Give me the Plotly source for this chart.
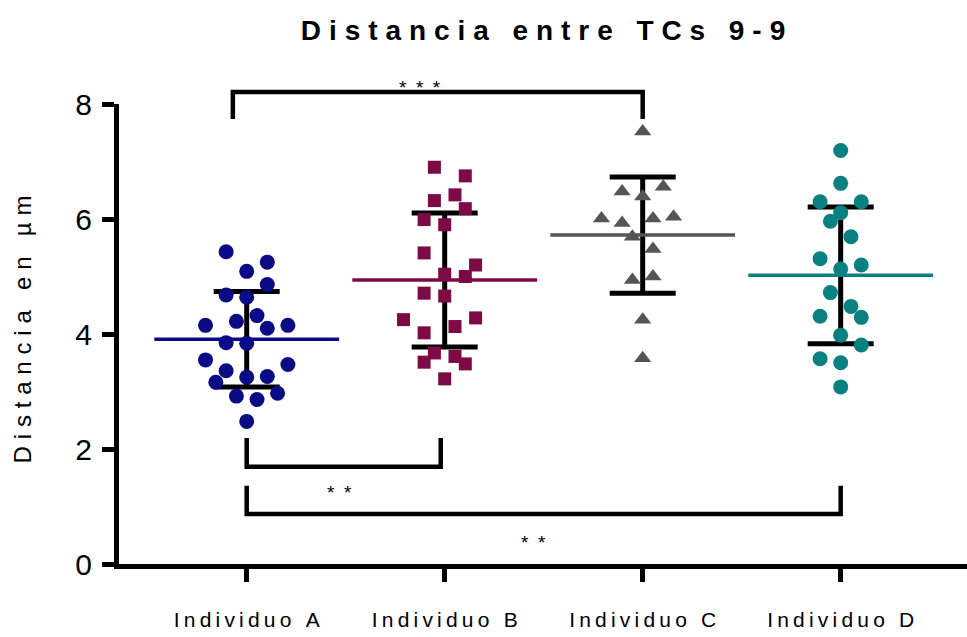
import plotly.graph_objects as go

# ---------------- data ----------------
categories = ["Individuo A", "Individuo B", "Individuo C", "Individuo D"]

a_vals = [5.43, 5.25, 5.09, 4.86, 4.68, 4.64, 4.32, 4.22, 4.15, 4.10, 4.15, 3.85,
          3.84, 3.55, 3.47, 3.36, 3.25, 3.26, 3.16, 2.97, 2.92, 2.86, 2.48]
a_cols = [-2, 2, 0, 2, -2, 0, 1, -1, -4, 2, 4, -2, 0, -4, 4, -2, 0, 2, -3, 3, -1, 1, 0]

b_vals = [6.90, 6.75, 6.32, 6.42, 6.18, 5.99, 5.90, 5.41, 5.20, 5.04, 5.00, 4.71,
          4.66, 4.25, 4.28, 4.13, 4.02, 3.67, 3.61, 3.51, 3.48, 3.22]
b_cols = [-1, 2, -1, 1, 2, -2, 0, -2, 3, 0, 2, -2, 0, -4, 3, 1, -2, -1, 1, -2, 2, 0]

c_vals = [7.52, 6.48, 6.56, 6.39, 6.01, 5.93, 6.01, 6.04, 5.69, 5.48, 4.94, 5.00, 4.25, 3.58]
c_cols = [0, -2, 2, 0, -4, -2, 1, 3, -1, 1, -1, 1, 0, 0]

d_vals = [7.19, 6.62, 6.30, 6.30, 6.11, 5.96, 5.69, 5.31, 5.20, 5.13, 4.72, 4.48,
          4.31, 4.29, 3.98, 3.81, 3.57, 3.50, 3.08]
d_cols = [0, 0, -2, 2, 0, -1, 1, -2, 2, 0, -1, 1, -2, 2, 0, 2, -2, 0, 0]

means = [3.91, 4.94, 5.72, 5.02]
sds = [0.83, 1.165, 1.01, 1.19]

y_ticks = [0, 2, 4, 6, 8]

# significance brackets: (x_left, x_right, y_bar, y_leg_end, label, label_x, label_y)
brackets = [
    (-0.07, 2.0, 8.21, 7.74, "***", 0.875, 8.28),
    (0.0, 0.98, 1.69, 2.19, "**", 0.47, 1.25),
    (0.0, 3.0, 0.87, 1.36, "**", 1.446, 0.38),
]

colors = ["#0b0b85", "#7d0a45", "#555555", "#0a8080"]
symbols = ["circle", "square", "triangle-up", "circle"]
sizes = [15, 13, 15, 15]

YMAX = 8.0
JIT = 0.052
SEP = "\u2009\u200a"

def spaced(s, sep=SEP):
    return sep.join(s)

FONT = "Liberation Sans, Arial, sans-serif"

fig = go.Figure()

# error bars (SD)
fig.add_trace(go.Scatter(
    x=list(range(len(categories))), y=means, mode="markers",
    marker=dict(size=1, color="rgba(0,0,0,0)"),
    error_y=dict(type="data", array=sds, visible=True, color="black",
                 thickness=5, width=33),
    hoverinfo="skip", showlegend=False))

# mean lines
fig.add_trace(go.Scatter(
    x=list(range(len(categories))), y=means, mode="markers",
    marker=dict(symbol="line-ew", size=132,
                line=dict(width=3.5, color=colors)),
    hoverinfo="skip", showlegend=False))

groups = [(a_vals, a_cols), (b_vals, b_cols), (c_vals, c_cols), (d_vals, d_cols)]
for i, (vals, cols) in enumerate(groups):
    fig.add_trace(go.Scatter(
        x=[i + c * JIT for c in cols], y=vals, mode="markers",
        name=categories[i],
        marker=dict(symbol=symbols[i], size=sizes[i], color=colors[i],
                    line=dict(width=0)),
        showlegend=False))

shapes = []
annotations = []
for (x0, x1, yb, yl, lab, lx, ly) in brackets:
    shapes.append(dict(
        type="path", xref="x", yref="paper",
        path=f"M {x0},{yl / YMAX} L {x0},{yb / YMAX} L {x1},{yb / YMAX} L {x1},{yl / YMAX}",
        line=dict(color="black", width=4.5)))
    annotations.append(dict(
        x=lx, y=ly / YMAX, xref="x", yref="paper", text=spaced(lab, "\u2002"),
        showarrow=False, xanchor="center", yanchor="middle",
        font=dict(family=FONT, size=19, color="black")))

# y-axis title
annotations.append(dict(
    x=0, y=0.51, xref="paper", yref="paper", xshift=-97,
    text=spaced("Distancia en µm"), textangle=-90, showarrow=False,
    xanchor="center", yanchor="middle",
    font=dict(family=FONT, size=24, color="black")))

fig.update_layout(
    width=967, height=637,
    margin=dict(l=119, r=0, t=104, b=73),
    paper_bgcolor="white", plot_bgcolor="white",
    title=dict(text="<b>" + spaced("Distancia entre TCs 9-9") + "</b>",
               x=0.5, xref="paper", xanchor="center",
               y=1 - 30 / 637, yref="container", yanchor="middle",
               font=dict(family=FONT, size=28, color="black")),
    xaxis=dict(range=[-0.645, 3.638], showgrid=False, zeroline=False,
               showline=True, linecolor="black", linewidth=5,
               tickmode="array", tickvals=list(range(len(categories))),
               ticktext=[spaced(c, "\u2009") for c in categories],
               ticks="outside", ticklen=13, tickwidth=5, tickcolor="black",
               ticklabelstandoff=20,
               tickfont=dict(family=FONT, size=21, color="black")),
    yaxis=dict(range=[0, YMAX], showgrid=False, zeroline=False,
               showline=True, linecolor="black", linewidth=5,
               tickmode="array", tickvals=y_ticks,
               ticks="outside", ticklen=12, tickwidth=5, tickcolor="black",
               ticklabelstandoff=4,
               tickfont=dict(family=FONT, size=30, color="black")),
    shapes=shapes, annotations=annotations,
)

fig.write_html("out.html")
